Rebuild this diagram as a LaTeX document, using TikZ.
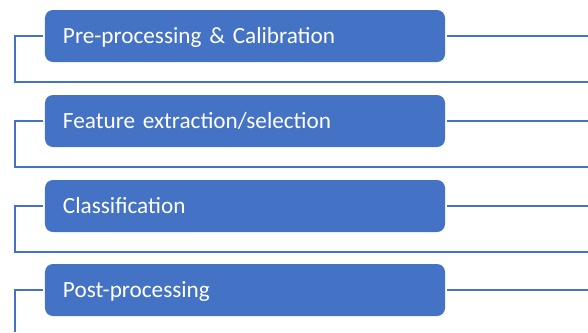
\documentclass[tikz,border=0pt]{standalone}
\usepackage{fontspec}
\setmainfont{Carlito}
\definecolor{stageblue}{HTML}{4472C4}
\begin{document}
\begin{tikzpicture}[x=1bp,y=-1bp,
  stagebox/.style={fill=stageblue, draw=none, rounded corners=8bp,
    minimum width=400bp, minimum height=52bp, inner sep=0pt,
    text=white, font=\fontsize{23.3}{27}\selectfont,
    align=left, text width=364bp, text height=19bp, text depth=5bp},
  link/.style={draw=stageblue, line width=2.2bp}]
  \useasboundingbox (0,0) rectangle (588,332);
  % four pipeline stages
  \node[stagebox] (s1) at (245,36) {Pre-processing \& Calibration};
  \node[stagebox] (s2) at (245,121) {Feature extraction/selection};
  \node[stagebox] (s3) at (245,206) {Classification};
  \node[stagebox] (s4) at (245,290) {Post-processing};
  % free ends of the connectors
  \coordinate (r1) at (588,36);
  \coordinate (r2) at (588,121);
  \coordinate (r3) at (588,206);
  \coordinate (r4) at (588,290);
  \coordinate (e1) at (588,82);
  \coordinate (e2) at (588,167);
  \coordinate (e3) at (588,252);
  \coordinate (e4) at (15,332);
  % right-hand stubs
  \foreach \i in {1,...,4}
    \draw[link, shorten <=2bp] (s\i.east) -- (r\i);
  % left brackets wrapping under each stage
  \foreach \i in {1,2,3}
    \draw[link] ([xshift=-2bp]s\i.west) -- (15,0 |- s\i.west) -- (15,0 |- e\i) -- (e\i);
  \draw[link] ([xshift=-2bp]s4.west) -- (15,0 |- s4.west) -- (e4);
\end{tikzpicture}
\end{document}
